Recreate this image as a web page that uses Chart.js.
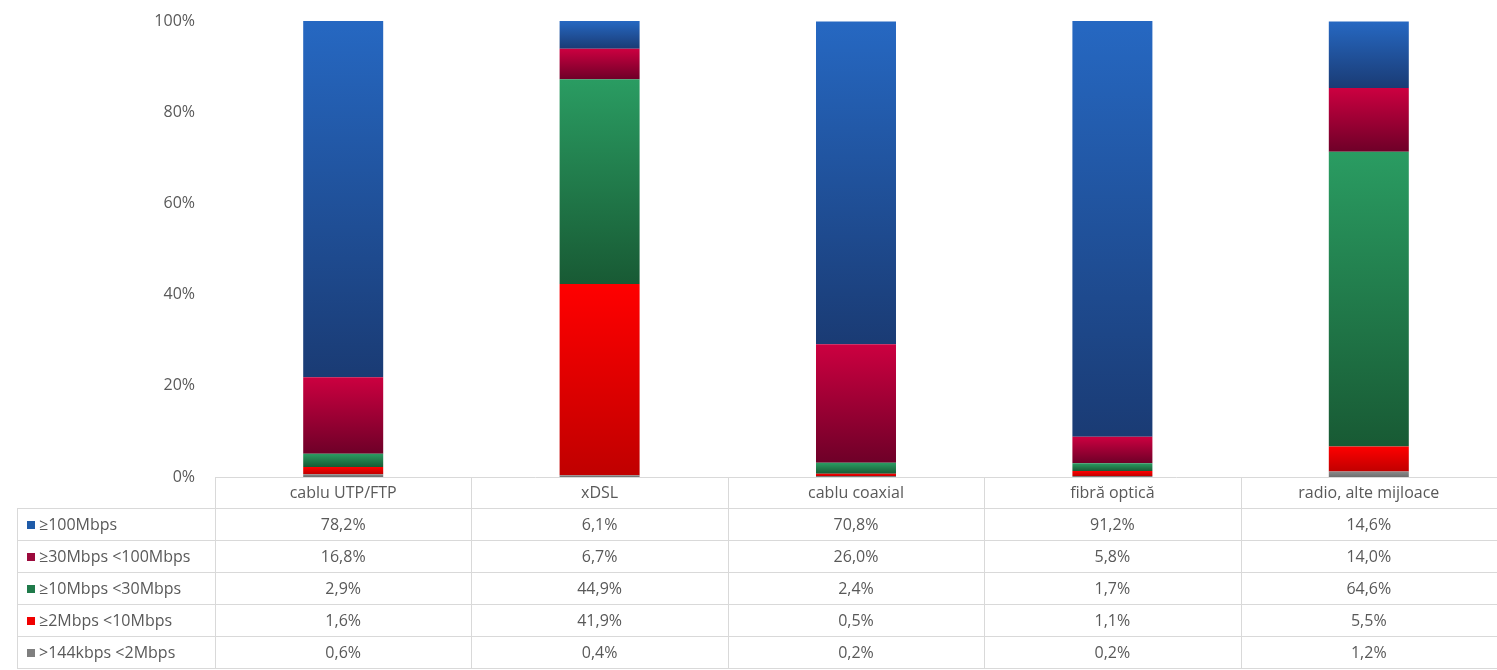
<!DOCTYPE html>
<html>
<head>
<meta charset="utf-8">
<script src="https://cdn.jsdelivr.net/npm/chart.js@4.4.1/dist/chart.umd.min.js"></script>
<style>
  html, body { margin: 0; padding: 0; background: #fff; }
  #wrap { width: 1497px; height: 670px; }
</style>
</head>
<body>
<div id="wrap"><canvas id="speedChart"></canvas></div>
<script>
const categories = ["cablu UTP/FTP", "xDSL", "cablu coaxial", "fibră optică", "radio, alte mijloace"];
const yTicks = [0, 20, 40, 60, 80, 100];

// serii, in ordinea din tabel (sus -> jos)
const seriesNames = ["≥100Mbps", "≥30Mbps <100Mbps", "≥10Mbps <30Mbps", "≥2Mbps <10Mbps", ">144kbps <2Mbps"];
const v100 = [78.2, 6.1, 70.8, 91.2, 14.6];
const v30 = [16.8, 6.7, 26.0, 5.8, 14.0];
const v10 = [2.9, 44.9, 2.4, 1.7, 64.6];
const v2 = [1.6, 41.9, 0.5, 1.1, 5.5];
const v144 = [0.6, 0.4, 0.2, 0.2, 1.2];

const seriesValues = [v100, v30, v10, v2, v144];
const keyColors = ["#1f5ba8", "#9c0a3c", "#1f7a4a", "#f00000", "#7f7f7f"];
const gradTop = ["#2668c2", "#cc0040", "#2a9c62", "#ff0000", "#8a8a8a"];
const gradBottom = ["#1a3b74", "#6e0028", "#185a34", "#c00000", "#6e6e6e"];

const fmt = (v) => v.toFixed(1).replace(".", ",") + "%";
const FONT = "'Open Sans', Lato, sans-serif";
const TXT = "#595959";
const LINE = "#d9d9d9";

// stacked from bottom: >144kbps first
const stackOrder = [4, 3, 2, 1, 0];

function segGradient(ctx, si) {
  const chart = ctx.chart;
  if (!chart.chartArea || ctx.type !== "data") return gradTop[si];
  const i = ctx.dataIndex;
  let start = 0;
  for (const k of stackOrder) {
    if (k === si) break;
    start += seriesValues[k][i];
  }
  const ys = chart.scales.y;
  const top = ys.getPixelForValue(start + seriesValues[si][i]);
  const bot = ys.getPixelForValue(start);
  if (!isFinite(top) || !isFinite(bot) || top === bot) return gradTop[si];
  const g = chart.ctx.createLinearGradient(0, top, 0, bot);
  g.addColorStop(0, gradTop[si]);
  g.addColorStop(1, gradBottom[si]);
  return g;
}

const datasets = stackOrder.map((si) => ({
  label: seriesNames[si],
  data: seriesValues[si],
  backgroundColor: (ctx) => segGradient(ctx, si),
  borderWidth: 0,
  categoryPercentage: 1,
  barPercentage: 0.312
}));

const TABLE_LEFT = 17;
const HEADER_H = 31;
const ROW_H = 32;

const dataTable = {
  id: "dataTable",
  afterDraw(chart) {
    const c = chart.ctx;
    const xs = chart.scales.x;
    const area = chart.chartArea;
    const top = area.bottom;
    const right = area.right;
    const colW = (area.right - area.left) / categories.length;
    c.save();
    c.strokeStyle = LINE;
    c.lineWidth = 1;
    // header top line
    c.beginPath();
    c.moveTo(area.left, top + 0.5);
    c.lineTo(right, top + 0.5);
    // row lines
    for (let r = 0; r <= seriesNames.length; r++) {
      const y = Math.round(top + HEADER_H + r * ROW_H) + 0.5;
      c.moveTo(TABLE_LEFT, y);
      c.lineTo(right, y);
    }
    // vertical lines
    const bottom = top + HEADER_H + seriesNames.length * ROW_H;
    for (let k = 0; k <= categories.length; k++) {
      const x = Math.round(area.left + k * colW) + 0.5;
      c.moveTo(x, top);
      c.lineTo(x, bottom);
    }
    c.moveTo(TABLE_LEFT + 0.5, top + HEADER_H);
    c.lineTo(TABLE_LEFT + 0.5, bottom);
    c.stroke();

    c.fillStyle = TXT;
    c.font = "16px " + FONT;
    c.textAlign = "center";
    c.textBaseline = "middle";
    categories.forEach((cat, i) => {
      c.fillText(cat, xs.getPixelForValue(i), top + HEADER_H / 2 + 1);
    });
    seriesNames.forEach((name, r) => {
      const yMid = top + HEADER_H + r * ROW_H + ROW_H / 2 + 1;
      c.fillStyle = keyColors[r];
      c.fillRect(27, Math.round(yMid - 4), 8, 8);
      c.fillStyle = TXT;
      c.textAlign = "left";
      c.fillText(name, 39, yMid);
      c.textAlign = "center";
      seriesValues[r].forEach((v, i) => {
        c.fillText(fmt(v), xs.getPixelForValue(i), yMid);
      });
    });
    c.restore();
  }
};

new Chart(document.getElementById("speedChart"), {
  type: "bar",
  data: { labels: categories, datasets: datasets },
  options: {
    responsive: true,
    maintainAspectRatio: false,
    animation: false,
    layout: { padding: { top: 21, bottom: 193, left: 0, right: 0 } },
    plugins: { legend: { display: false }, tooltip: { enabled: false } },
    scales: {
      x: {
        stacked: true,
        display: false
      },
      y: {
        stacked: true,
        min: 0,
        max: 100,
        afterFit(axis) {
          axis.width = 215;
          axis.paddingTop = 0;
          axis.paddingBottom = 0;
        },
        afterBuildTicks(axis) { axis.ticks = yTicks.map((v) => ({ value: v })); },
        grid: { display: false, drawTicks: false },
        border: { display: false },
        ticks: {
          padding: 20,
          color: TXT,
          font: { family: FONT, size: 16 },
          callback: (v) => v + "%"
        }
      }
    }
  },
  plugins: [dataTable]
});
</script>
</body>
</html>
